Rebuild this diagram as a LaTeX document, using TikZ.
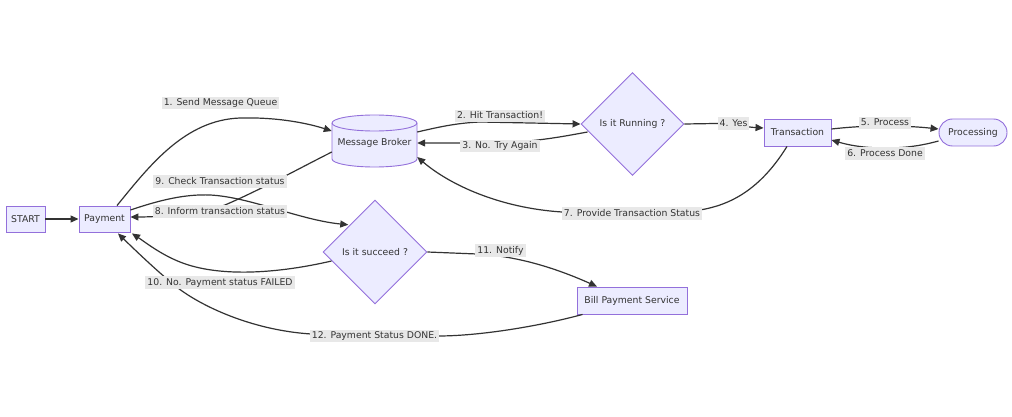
\documentclass[tikz,border=0pt]{standalone}
\usepackage{fontspec}
\setmainfont{DejaVu Sans}
\usetikzlibrary{shapes.geometric,arrows.meta,calc}
\definecolor{nodefill}{HTML}{ECECFF}
\definecolor{nodeline}{HTML}{9370DB}
\definecolor{edgecol}{HTML}{333333}
\definecolor{lblbg}{HTML}{E8E8E8}
\begin{document}
\begin{tikzpicture}[x=1pt,y=-1pt,
  box/.style={draw=nodeline,fill=nodefill,line width=0.9pt,inner sep=0pt,text=edgecol,font=\fontsize{9.3}{11}\selectfont},
  rectbox/.style={box,rectangle,minimum height=26pt},
  decision/.style={box,diamond,aspect=1},
  lbl/.style={fill=lblbg,text=edgecol,inner xsep=2pt,inner ysep=1.5pt,text height=7.3pt,text depth=2.2pt,font=\fontsize{9.3}{11}\selectfont},
  flow/.style={draw=edgecol,line width=1.2pt,-{Triangle[length=8pt,width=7pt]}},
]
\fill[white] (0,0) rectangle (1012,417);
\useasboundingbox (0,0) rectangle (1012,417);

% nodes
\node[rectbox,minimum width=39pt] (start) at (25.5,219) {START};
\node[rectbox,minimum width=51pt] (pay) at (104.5,219) {Payment};
\node[rectangle,minimum width=85pt,minimum height=52pt,inner sep=0pt] (mb) at (374.5,141) {};
\fill[nodefill] (332,123) -- (332,159) arc[start angle=180,end angle=360,x radius=42.5pt,y radius=8pt] -- (417,123) arc[start angle=0,end angle=180,x radius=42.5pt,y radius=8pt] -- cycle;
\draw[nodeline,line width=0.9pt] (332,123) -- (332,159) arc[start angle=180,end angle=360,x radius=42.5pt,y radius=8pt] -- (417,123) arc[start angle=0,end angle=180,x radius=42.5pt,y radius=8pt];
\draw[nodeline,line width=0.9pt] (332,123) arc[start angle=180,end angle=360,x radius=42.5pt,y radius=8pt];
\node[text=edgecol,font=\fontsize{9.3}{11}\selectfont] at (374.5,143) {Message Broker};
\node[decision,minimum size=103pt] (run) at (632.5,124) {Is it Running ?};
\node[rectbox,minimum width=67pt,minimum height=27pt] (trans) at (797.5,132.5) {Transaction};
\node[rectbox,minimum width=68pt,minimum height=27pt,rounded corners=13.5pt] (proc) at (973,132.5) {Processing};
\node[decision,minimum size=104pt] (suc) at (375,252) {Is it succeed ?};
\node[rectbox,minimum width=110pt,minimum height=27pt] (bill) at (632,300.5) {Bill Payment Service};

% connectors
\draw[flow] (start.east) -- (pay.west);
\draw[flow] ($(pay.north)+(12.5,0)$) .. controls (150,165) and (185,120) .. (240,118) .. controls (280,117) and (310,124) .. ($(mb.west)+(0,-10)$);
\draw[flow] ($(mb.east)+(0,-9)$) .. controls (435,128) and (455,123) .. (480,122) -- (run.west);
\draw[flow] ($(run.west)+(7,8)$) .. controls (560,137) and (540,141) .. (500,143) -- ($(mb.east)+(0,2)$);
\draw[flow] (run.east) -- (715,123.5) .. controls (735,124) and (745,127) .. ($(trans.west)+(0,-4.5)$);
\draw[flow] ($(trans.east)+(0,-3.5)$) .. controls (850,127) and (865,126) .. (885,126) .. controls (905,126) and (920,127) .. ($(proc.west)+(0,-3.5)$);
\draw[flow] ($(proc.west)+(0,8.5)$) .. controls (920,146) and (905,148) .. (885,148) .. controls (860,148) and (845,144) .. ($(trans.east)+(0,7.5)$);
\draw[flow] ($(trans.south)+(-10.5,0)$) .. controls (760,190) and (730,205) .. (700,210) -- (562,212) .. controls (500,208) and (450,185) .. ($(mb.east)+(0,16)$);
\draw[flow] ($(mb.west)+(0,11)$) .. controls (300,168) and (260,190) .. (225,205) .. controls (200,214) and (160,217) .. ($(pay.east)+(0,-2)$);
\draw[flow] ($(pay.east)+(0,-9)$) .. controls (160,200) and (185,194) .. (210,195) .. controls (250,197) and (300,220) .. ($(suc.north west)+(-0.5,-1)$);
\draw[flow] ($(suc.west)+(9,9)$) .. controls (280,273) and (220,278) .. (180,262) .. controls (160,254) and (145,242) .. ($(pay.south east)+(1.5,1)$);
\draw[flow] ($(bill.south west)+(6,0)$) .. controls (540,326) and (480,336) .. (438,336) -- (311,334) .. controls (250,330) and (200,305) .. (178,288) .. controls (160,274) and (135,250) .. ($(pay.south)+(13.5,1)$);
\draw[flow] (suc.east) -- (477,254) .. controls (520,256) and (560,270) .. ($(bill.north)+(-35,0)$);

% labels
\node[lbl] (l1) at (220.5,103) {1. Send Message Queue};
\node[lbl] (l2) at (500,116) {2. Hit Transaction!};
\node[lbl] (l3) at (500,146) {3. No. Try Again};
\node[lbl] (l4) at (733.5,123.5) {4. Yes};
\node[lbl] (l5) at (885,123) {5. Process};
\node[lbl] (l6) at (885,153.5) {6. Process Done};
\node[lbl] (l7) at (632,213.5) {7. Provide Transaction Status};
\node[lbl] (l9) at (220,181.5) {9. Check Transaction status};
\node[lbl] (l8) at (220,211.5) {8. Inform transaction status};
\node[lbl] (l10) at (220,282.5) {10. No. Payment status FAILED};
\node[lbl] (l11) at (500.5,250.5) {11. Notify};
\node[lbl] (l12) at (374.5,336) {12. Payment Status DONE.};
\end{tikzpicture}
\end{document}
